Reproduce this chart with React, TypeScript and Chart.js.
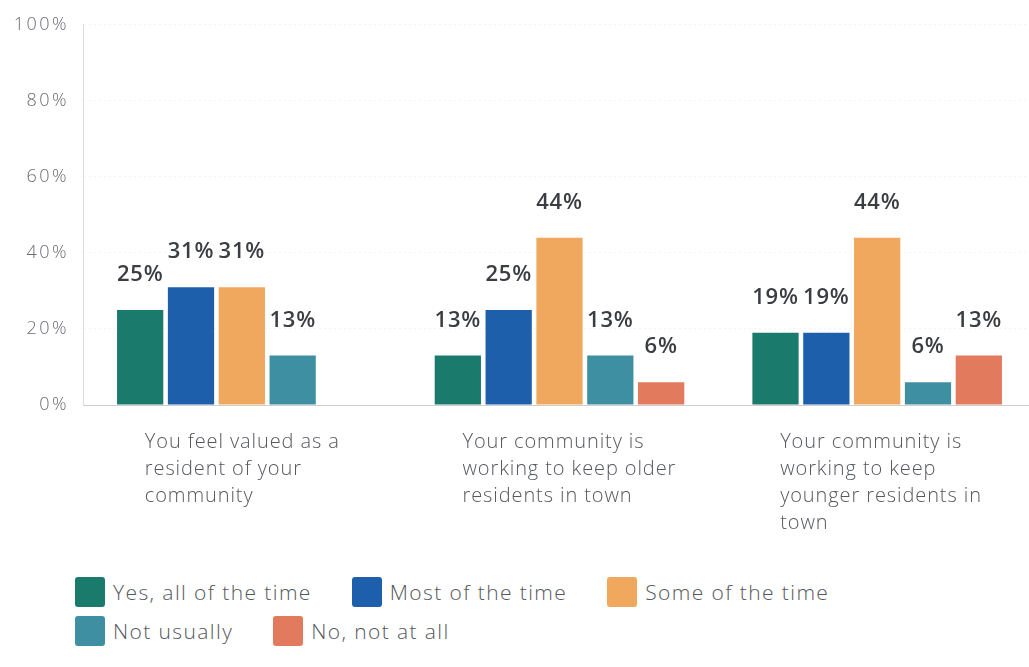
import React, { useEffect, useRef } from "react";
import { Chart, registerables } from "chart.js";

Chart.register(...registerables);

const categories: string[][] = [
  ["You feel valued as a", "resident of your", "community"],
  ["Your community is", "working to keep older", "residents in town"],
  ["Your community is", "working to keep", "younger residents in", "town"],
];
const seriesNames = [
  "Yes, all of the time",
  "Most of the time",
  "Some of the time",
  "Not usually",
  "No, not at all",
];
const yesAllOfTheTime = [25, 13, 19];
const mostOfTheTime = [31, 25, 19];
const someOfTheTime = [31, 44, 44];
const notUsually = [13, 13, 6];
const noNotAtAll = [0, 6, 13];
const yTickValues = [0, 20, 40, 60, 80, 100];

const seriesValues = [yesAllOfTheTime, mostOfTheTime, someOfTheTime, notUsually, noNotAtAll];
const seriesColors = ["#1a7a6c", "#1e5fab", "#f0a75e", "#3f8fa2", "#e27a5d"];

const FONT = "'Open Sans', Roboto, sans-serif";

const barLabelPlugin = {
  id: "barLabels",
  afterDatasetsDraw(chart: any) {
    const ctx = chart.ctx;
    ctx.save();
    ctx.font = `600 22px ${FONT}`;
    (ctx as any).letterSpacing = "0.8px";
    ctx.fillStyle = "#3a3d42";
    ctx.textAlign = "center";
    ctx.textBaseline = "alphabetic";
    chart.data.datasets.forEach((ds: any, di: number) => {
      const meta = chart.getDatasetMeta(di);
      meta.data.forEach((el: any, i: number) => {
        const v = ds.data[i];
        if (!v) return;
        ctx.fillText(`${v}%`, el.x, el.y - 29);
      });
    });
    ctx.restore();
  },
};

const categoryLabelPlugin = {
  id: "categoryLabels",
  afterDraw(chart: any) {
    const ctx = chart.ctx;
    const xs = chart.scales.x;
    const bottom = chart.chartArea.bottom;
    ctx.save();
    ctx.font = `300 20px ${FONT}`;
    (ctx as any).letterSpacing = "0.9px";
    ctx.fillStyle = "#55585c";
    ctx.textAlign = "left";
    ctx.textBaseline = "middle";
    categories.forEach((lines, i) => {
      const x = xs.getPixelForValue(i) - 97;
      lines.forEach((line, li) => {
        ctx.fillText(line, x, bottom + 37 + li * 27);
      });
    });
    ctx.restore();
  },
};

export default function App() {
  const ref = useRef<HTMLCanvasElement | null>(null);

  useEffect(() => {
    if (!ref.current) return;
    const chart = new Chart(ref.current, {
      type: "bar",
      data: {
        labels: categories.map((c) => c.join(" ")),
        datasets: seriesNames.map((name, i) => ({
          label: name,
          data: seriesValues[i],
          backgroundColor: seriesColors[i],
          borderWidth: 0,
          categoryPercentage: 0.8,
          barPercentage: 0.91,
        })),
      },
      options: {
        responsive: false,
        animation: false,
        layout: { padding: { top: 19, right: 0, bottom: 132, left: 0 } },
        plugins: {
          legend: { display: false },
          tooltip: { enabled: false },
        },
        scales: {
          x: {
            grid: { display: false },
            border: { display: true, color: "#cfcfcf", width: 1 },
            ticks: { display: false },
          },
          y: {
            min: 0,
            max: 100,
            afterBuildTicks(scale: any) {
              scale.ticks = yTickValues.map((v) => ({ value: v }));
            },
            afterFit(scale: any) {
              scale.width = 83;
            },
            ticks: {
              padding: 14,
              color: "#6a6d72",
              font: { family: FONT, size: 18, weight: "300" as any },
              callback: (v: any) => `${v}%`,
            },
            grid: {
              color: "rgba(0,0,0,0.045)",
              drawTicks: false,
            },
            border: { display: true, color: "#dcdcdc", dash: [2, 3] },
          },
        },
      },
      plugins: [
        barLabelPlugin,
        categoryLabelPlugin,
        {
          id: "yTickSpacing",
          beforeDraw(chart: any) {
            (chart.ctx as any).letterSpacing = "2.5px";
          },
          afterDraw(chart: any) {
            (chart.ctx as any).letterSpacing = "0px";
          },
        },
      ],
    });
    return () => chart.destroy();
  }, []);

  return (
    <div
      style={{
        position: "absolute",
        left: 0,
        top: 0,
        width: 1029,
        height: 667,
        overflow: "hidden",
        background: "#fff",
      }}
    >
      <canvas ref={ref} width={1036} height={545} style={{ display: "block" }} />
      <div
        style={{
          position: "absolute",
          left: 75,
          top: 577,
          width: 850,
          display: "flex",
          flexWrap: "wrap",
          columnGap: 40,
          rowGap: 9,
          fontFamily: FONT,
          fontWeight: 300,
          fontSize: 21,
          letterSpacing: "1.4px",
          color: "#55585c",
        }}
      >
        {seriesNames.map((name, i) => (
          <div key={name} style={{ display: "flex", alignItems: "center", height: 30 }}>
            <span
              style={{
                width: 30,
                height: 30,
                borderRadius: 3,
                background: seriesColors[i],
                marginRight: 8,
                display: "inline-block",
              }}
            />
            <span>{name}</span>
          </div>
        ))}
      </div>
    </div>
  );
}
